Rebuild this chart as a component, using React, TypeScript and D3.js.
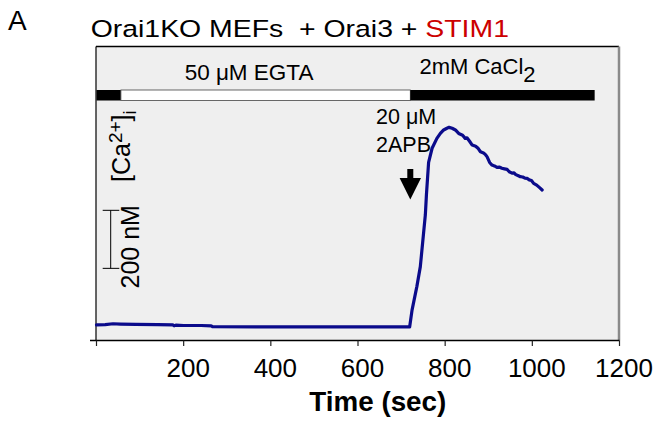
import React from "react";
import * as d3 from "d3";

// ---- data ----
const traceTime: number[] = [
  0, 20, 38, 55, 90, 140, 175, 178, 182, 200, 240, 263, 266, 400, 550, 700, 718.5,
  724, 735, 743, 750.5, 754.5, 757, 762, 770, 781, 789, 796.5, 804, 809, 816, 823.5,
  831, 840, 846, 850, 856, 862, 870, 876, 881, 888, 893, 896, 902, 907.5, 913, 919,
  925, 930, 936, 942, 947, 953.5, 958, 962, 968, 972.5, 978, 983, 988, 993, 998,
  1003, 1010, 1016, 1022.5,
];
const traceCa: number[] = [
  52, 53, 56, 55, 54, 53, 52, 49, 51, 50, 50, 49, 46, 45, 45, 45, 45,
  103, 184, 253, 369, 431, 500, 612, 661, 695, 712, 724, 730, 733, 730, 724,
  712, 706, 695, 697, 685, 672, 668, 660, 649, 645, 638, 632, 612, 603, 600, 595,
  596, 592, 590, 588, 580, 575, 576, 570, 566, 563, 562, 558, 557, 552, 550,
  540, 534, 526, 517,
];
const segStart: number[] = [0, 56, 720];
const segEnd: number[] = [56, 720, 1143];
const xTicks: number[] = [0, 200, 400, 600, 800, 1000, 1200];
const scaleBarNM: number[] = [247, 447];
const stimTime = 720;

const W = 660;
const H = 423;
const FONT = "'Liberation Sans', Arial, Helvetica, sans-serif";

export default function App() {
  const x = d3.scaleLinear().domain([0, 1200]).range([96.5, 619.5]);
  const y = d3.scaleLinear().domain([0, 1010]).range([340, 47]);

  const pts = traceTime.map((t, i) => [t, traceCa[i]] as [number, number]);
  const line = d3
    .line<[number, number]>()
    .x((d) => x(d[0]))
    .y((d) => y(d[1]))
    .curve(d3.curveLinear);

  const panelL = 96;
  const panelR = 619;
  const panelT = 46.5;
  const panelB = 340.5;

  const ax = x(stimTime);
  const arrowPath = `M${ax - 3},169 L${ax + 3},169 L${ax + 3},178 L${ax + 10.7},178 L${ax},199.5 L${ax - 10.7},178 L${ax - 3},178 Z`;

  return (
    <svg
      width={W}
      height={H}
      style={{ position: "absolute", left: 0, top: 0, background: "#fff" }}
      fontFamily={FONT}
    >
      {/* panel label */}
      <text x={8} y={30} fontSize={28} fill="#000">A</text>
      {/* title */}
      <g transform="translate(90.7,37) scale(1.16,1)">
        <text x={0} y={0} fontSize={24.5} fill="#000" style={{ whiteSpace: "pre" }}>
          {"Orai1KO MEFs  + Orai3 + "}
          <tspan fill="#cc0000">STIM1</tspan>
        </text>
      </g>

      {/* panel */}
      <rect x={panelL} y={panelT} width={panelR - panelL} height={panelB - panelT} fill="#efefef" />
      <line x1={panelL} x2={panelR} y1={panelT} y2={panelT} stroke="#000" strokeWidth={1.4} />
      <line x1={panelL} x2={panelL} y1={panelT} y2={panelB} stroke="#000" strokeWidth={1.2} />
      <line x1={panelR} x2={panelR} y1={panelT} y2={panelB} stroke="#8a8a8a" strokeWidth={2.5} />

      {/* solution bar */}
      {segStart.map((s, i) => (
        <rect
          key={i}
          x={x(s)}
          y={90}
          width={x(segEnd[i]) - x(s)}
          height={10.5}
          fill={i === 1 ? "#ffffff" : "#000000"}
          stroke={i === 1 ? "#444" : "none"}
          strokeWidth={0.8}
        />
      ))}
      <text x={x(350)} y={80} fontSize={22.5} textAnchor="middle" fill="#000">
        50 μM EGTA
      </text>
      <text x={x(741)} y={74} fontSize={22} fill="#000">
        2mM CaCl
        <tspan dy={7.5}>2</tspan>
      </text>

      {/* stimulus annotation */}
      <text x={376} y={124.3} fontSize={21.5} fill="#000">20 μM</text>
      <text x={376} y={151.7} fontSize={21.5} fill="#000">2APB</text>
      <path d={arrowPath} fill="#000" />

      {/* y label */}
      <text transform="translate(130,182) rotate(-90)" fontSize={25} fill="#000">
        [Ca
        <tspan dy={-8.5} fontSize={19}>2+</tspan>
        <tspan dy={8.5} fontSize={25}>]</tspan>
        <tspan dy={6} fontSize={18}>i</tspan>
      </text>
      {/* scale bar */}
      <line x1={110.7} x2={110.7} y1={y(scaleBarNM[0])} y2={y(scaleBarNM[1])} stroke="#000" strokeWidth={1} />
      {scaleBarNM.map((v, i) => (
        <line key={i} x1={102.7} x2={119.3} y1={y(v)} y2={y(v)} stroke="#000" strokeWidth={1} />
      ))}
      <text transform="translate(139,288.5) rotate(-90)" fontSize={25} fill="#000">200 nM</text>

      {/* trace */}
      <path d={line(pts) || ""} fill="none" stroke="#0b0b8b" strokeWidth={3.2} strokeLinejoin="round" strokeLinecap="round" />

      {/* x axis */}
      <line x1={90} x2={panelR + 0.5} y1={340.5} y2={340.5} stroke="#000" strokeWidth={1.5} />
      {xTicks.map((t) => (
        <g key={t}>
          <line x1={x(t)} x2={x(t)} y1={340.5} y2={346} stroke="#222" strokeWidth={1.2} />
          {t > 0 && (
            <text x={x(t) + 4.5} y={377} fontSize={26} textAnchor="middle" fill="#000">
              {t}
            </text>
          )}
        </g>
      ))}
      <text x={309.3} y={411} fontSize={27} fontWeight="bold" fill="#000" textLength={137} lengthAdjust="spacingAndGlyphs">
        Time (sec)
      </text>
    </svg>
  );
}
